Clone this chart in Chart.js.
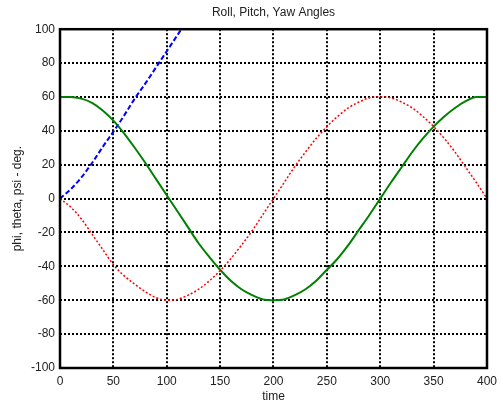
<!DOCTYPE html>
<html>
<head>
<meta charset="utf-8">
<script src="https://cdn.jsdelivr.net/npm/chart.js@4.4.1/dist/chart.umd.min.js"></script>
<style>
  html, body { margin: 0; padding: 0; background: #fff; }
  canvas { display: block; }
</style>
</head>
<body>
<canvas id="chart" width="503" height="407"></canvas>
<script>
// time samples
const time = [0, 10, 20, 30, 40, 50, 60, 70, 80, 90, 100, 110, 120, 130, 140, 150, 160, 170, 180, 190, 200,
  210, 220, 230, 240, 250, 260, 270, 280, 290, 300, 310, 320, 330, 340, 350, 360, 370, 380, 390, 400];

// theta (green, solid)
const theta = [60, 60, 59, 56.5, 52, 46, 38.5, 30, 21, 11.5, 2, -7.5, -17, -26.5, -34.5, -42, -48.5, -53.5, -57, -59.5, -60,
  -59.5, -57, -53.5, -48.5, -42, -35.5, -27.5, -18.5, -9.5, 0, 9.5, 18.5, 27.5, 35.5, 42.5, 48.5, 53.5, 57.5, 60, 60];

// phi (red, dotted)
const phi = [0, -5, -12, -21, -30, -39, -45.5, -50.5, -55, -58.5, -60, -59.5, -57, -53.5, -48.5, -42.5, -35.5, -27.5, -19, -9.5, 0,
  9.5, 19, 27.5, 35.5, 42.5, 48.5, 53.5, 57, 59.5, 60, 59.5, 57, 53.5, 48.5, 42.5, 35.5, 27.5, 18.5, 9.5, 0];

// psi (blue, dashed) - leaves the plot at the top
const psiTime = [0, 10, 20, 30, 40, 50, 60, 70, 80, 90, 100, 110, 114];
const psi = [0, 5.5, 12.5, 21, 30.5, 39.5, 49, 59, 68, 77.5, 87, 96.5, 100.3];

const xTicks = [0, 50, 100, 150, 200, 250, 300, 350, 400];
const yTicks = [-100, -80, -60, -40, -20, 0, 20, 40, 60, 80, 100];

const pts = (xs, ys) => xs.map((x, i) => ({ x: x, y: ys[i] }));
const font = { family: "'Liberation Sans', Arial, sans-serif", size: 12, weight: 'normal' };
const ink = '#222';

// black frame round the plot area
const frame = {
  id: 'frame',
  afterDraw(chart) {
    const a = chart.chartArea, ctx = chart.ctx;
    ctx.save();
    ctx.strokeStyle = '#000';
    ctx.lineWidth = 2.5;
    ctx.strokeRect(a.left, a.top, a.right - a.left, a.bottom - a.top);
    ctx.restore();
  }
};

new Chart(document.getElementById('chart'), {
  type: 'line',
  data: {
    datasets: [
      { label: 'phi', data: pts(time, phi), borderColor: '#ff0000', borderWidth: 1.5, borderDash: [2, 2] },
      { label: 'theta', data: pts(time, theta), borderColor: '#008000', borderWidth: 2 },
      { label: 'psi', data: pts(psiTime, psi), borderColor: '#0000ff', borderWidth: 2, borderDash: [5, 2.5] }
    ]
  },
  options: {
    responsive: false,
    animation: false,
    devicePixelRatio: 1,
    layout: { padding: { left: 0, right: 10, top: 0, bottom: 0 } },
    elements: {
      point: { radius: 0 },
      line: { cubicInterpolationMode: 'monotone', fill: false }
    },
    plugins: {
      legend: { display: false },
      tooltip: { enabled: false },
      title: {
        display: true,
        text: 'Roll, Pitch, Yaw Angles',
        fullSize: false,
        color: ink,
        font: font,
        padding: { top: 5, bottom: 9.8 }
      }
    },
    scales: {
      x: {
        type: 'linear',
        min: 0,
        max: 400,
        afterFit(s) { s.height = 39; },
        afterBuildTicks(s) { s.ticks = xTicks.map(v => ({ value: v })); },
        ticks: { color: ink, font: font, padding: 6, maxRotation: 0 },
        grid: { color: '#000', lineWidth: 2, drawTicks: false },
        border: { display: false, dash: [2, 2] },
        title: { display: true, text: 'time', color: ink, font: font, padding: { top: 0, bottom: 3 } }
      },
      y: {
        min: -100,
        max: 100,
        afterFit(s) { s.width = 60; },
        afterBuildTicks(s) { s.ticks = yTicks.map(v => ({ value: v })); },
        ticks: { color: ink, font: font, padding: 5 },
        grid: { color: '#000', lineWidth: 2, drawTicks: false },
        border: { display: false, dash: [2, 2] },
        title: { display: true, text: 'phi, theta, psi - deg.', color: ink, font: font, padding: { top: 10, bottom: 0 } }
      }
    }
  },
  plugins: [frame]
});
</script>
</body>
</html>
